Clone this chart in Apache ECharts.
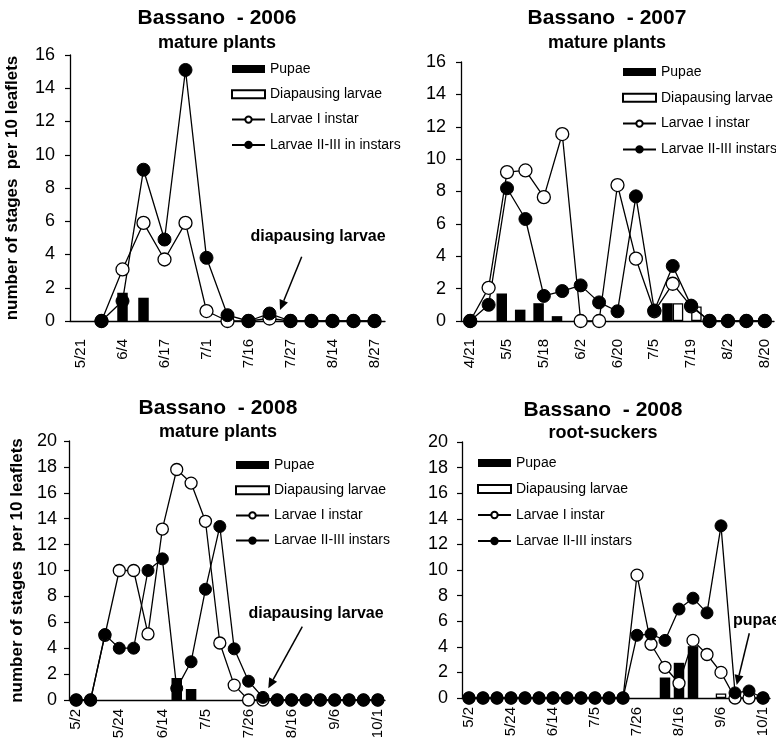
<!DOCTYPE html>
<html>
<head>
<meta charset="utf-8">
<script src="https://cdn.jsdelivr.net/npm/echarts@6/dist/echarts.min.js"></script>
<style>
  html, body { margin: 0; padding: 0; background: #fff; }
  #chart { width: 776px; height: 749px; }
</style>
</head>
<body>
<div id="chart"></div>
<script>
// Bassano 2006 - mature plants
const dates2006 = ['5/21', '', '6/4', '', '6/17', '', '7/1', '', '7/16', '', '7/27', '', '8/14', '', '8/27'];
const pupae2006 = [null, null, 1.7, 1.4, null, null, null, null, null, null, null, null, null, null, null];
const diap2006 = [null, null, null, null, null, null, null, null, null, null, null, null, null, null, null];
const larvaeI2006 = [null, 0, 3.1, 5.9, 3.7, 5.9, 0.6, 0, 0, 0.15, 0, 0, 0, 0, 0];
const larvaeII2006 = [null, 0, 1.2, 9.1, 4.9, 15.1, 3.8, 0.35, 0, 0.45, 0, 0, 0, 0, 0];

// Bassano 2007 - mature plants
const dates2007 = ['4/21', '', '5/5', '', '5/18', '', '6/2', '', '6/20', '', '7/5', '', '7/19', '', '8/2', '', '8/20'];
const pupae2007 = [null, null, 1.7, 0.7, 1.1, 0.3, null, null, null, null, null, 1.1, null, null, null, null, null];
const diap2007 = [null, null, null, null, null, null, null, null, null, null, null, 1.1, 0.9, null, null, null, null];
const larvaeI2007 = [0, 2.05, 9.2, 9.3, 7.65, 11.55, 0, 0, 8.4, 3.85, 0.6, 2.3, 0.9, 0, 0, 0, 0];
const larvaeII2007 = [0, 1.0, 8.2, 6.3, 1.55, 1.85, 2.2, 1.15, 0.6, 7.7, 0.65, 3.4, 0.95, 0, 0, 0, 0];

// Bassano 2008 - mature plants
const dates2008 = ['5/2', '', '', '5/24', '', '', '6/14', '', '', '7/5', '', '', '7/26', '', '', '8/16', '', '', '9/6', '', '', '10/1'];
const pupae2008 = [null, null, null, null, null, null, null, 1.7, 0.85, null, null, null, null, null, null, null, null, null, null, null, null, null];
const diap2008 = [null, null, null, null, null, null, null, null, null, null, null, null, null, null, null, null, null, null, null, null, null, null];
const larvaeI2008 = [0, 0, 5.0, 10.0, 10.0, 5.1, 13.2, 17.8, 16.75, 13.8, 4.4, 1.15, 0, 0, 0, 0, 0, 0, 0, 0, 0, 0];
const larvaeII2008 = [0, 0, 5.05, 4.0, 4.0, 10.0, 10.9, 0.9, 2.95, 8.55, 13.4, 3.95, 1.45, 0.2, 0, 0, 0, 0, 0, 0, 0, 0];

// Bassano 2008 - root-suckers
const datesRoot = dates2008;
const pupaeRoot = [null, null, null, null, null, null, null, null, null, null, null, null, null, null, 1.6, 2.75, 4.05, null, null, null, null, null];
const diapRoot = [null, null, null, null, null, null, null, null, null, null, null, null, null, null, null, null, null, null, 0.35, null, null, null];
const larvaeIRoot = [0, 0, 0, 0, 0, 0, 0, 0, 0, 0, 0, 0, 9.6, 4.2, 2.4, 1.15, 4.5, 3.4, 2.0, 0, 0, 0];
const larvaeIIRoot = [0, 0, 0, 0, 0, 0, 0, 0, 0, 0, 0, 0, 4.9, 5.0, 4.5, 6.95, 7.8, 6.65, 13.45, 0.4, 0.55, 0];

const yLabel = 'number of stages  per 10 leaflets';
const FONT = '"Liberation Sans", Arial, sans-serif';

const panels = [
  {
    box: { left: 70, top: 55, width: 315, height: 266 },
    cats: dates2006, every: 1, yMax: 16, xMargin: 18, yMargin: 15,
    pupae: pupae2006, diap: diap2006, l1: larvaeI2006, l23: larvaeII2006,
    l23Name: 'Larvae II-III in instars', barGap: '-100%', sym: 13,
    yName: true, nameGap: 49, legend: { left: 231, top: 62, gap: 11.3 }
  },
  {
    box: { left: 461, top: 62, width: 313, height: 259 },
    cats: dates2007, every: 1, yMax: 16, xMargin: 18, yMargin: 15,
    pupae: pupae2007, diap: diap2007, l1: larvaeI2007, l23: larvaeII2007,
    l23Name: 'Larvae II-III instars', barGap: '0%', sym: 13,
    yName: false, legend: { left: 622, top: 65, gap: 11.8 }
  },
  {
    box: { left: 69, top: 441, width: 316, height: 259 },
    cats: dates2008, every: 2, yMax: 20, xMargin: 9, yMargin: 12,
    pupae: pupae2008, diap: diap2008, l1: larvaeI2008, l23: larvaeII2008,
    l23Name: 'Larvae II-III instars', barGap: '-100%', sym: 12,
    yName: true, nameGap: 43, legend: { left: 235, top: 458, gap: 11.2 }
  },
  {
    box: { left: 462, top: 442, width: 308, height: 256 },
    cats: datesRoot, every: 2, yMax: 20, xMargin: 9, yMargin: 14,
    pupae: pupaeRoot, diap: diapRoot, l1: larvaeIRoot, l23: larvaeIIRoot,
    l23Name: 'Larvae II-III instars', barGap: '-100%', sym: 12,
    yName: false, legend: { left: 477, top: 456, gap: 12 }
  }
];

const grid = [], xAxis = [], yAxis = [], series = [], legend = [];

panels.forEach((p, i) => {
  grid.push(Object.assign({ containLabel: false, outerBoundsMode: 'none' }, p.box));
  xAxis.push({
    type: 'category', gridIndex: i, data: p.cats, boundaryGap: true,
    axisLine: { lineStyle: { color: '#000', width: 1.3 } },
    axisTick: { interval: 0, length: 5, lineStyle: { color: '#000', width: 1.2 } },
    axisLabel: { interval: p.every, rotate: 90, fontSize: 15, fontFamily: FONT, color: '#000', margin: p.xMargin }
  });
  yAxis.push({
    type: 'value', gridIndex: i, min: 0, max: p.yMax, interval: 2,
    name: p.yName ? yLabel : '', nameLocation: 'middle', nameGap: p.nameGap,
    nameTextStyle: { fontSize: 17, fontWeight: 'bold', fontFamily: FONT, color: '#000' },
    axisLine: { show: true, lineStyle: { color: '#000', width: 1.3 } },
    axisTick: { show: true, length: 5, lineStyle: { color: '#000', width: 1.2 } },
    splitLine: { show: false },
    axisLabel: { fontSize: 18, fontFamily: FONT, color: '#000', margin: p.yMargin }
  });
  const base = { xAxisIndex: i, yAxisIndex: i, silent: true, animation: false };
  series.push(Object.assign({
    name: 'Pupae', type: 'bar', data: p.pupae, barWidth: 10.5, barGap: p.barGap,
    itemStyle: { color: '#000' }
  }, base));
  series.push(Object.assign({
    name: 'Diapausing larvae', type: 'bar', data: p.diap, barWidth: 10.5, barGap: p.barGap,
    itemStyle: { color: '#fff', borderColor: '#000', borderWidth: 1.3 }
  }, base));
  series.push(Object.assign({
    name: 'Larvae I instar', type: 'line', data: p.l1, symbol: 'circle', symbolSize: p.sym,
    showAllSymbol: true, clip: false,
    itemStyle: { color: '#fff', borderColor: '#000', borderWidth: 1.3 },
    lineStyle: { color: '#000', width: 1.3 }
  }, base));
  series.push(Object.assign({
    name: p.l23Name, type: 'line', data: p.l23, symbol: 'circle', symbolSize: p.sym,
    showAllSymbol: true, clip: false,
    itemStyle: { color: '#000', borderColor: '#000', borderWidth: 1 },
    lineStyle: { color: '#000', width: 1.3 }
  }, base));
  legend.push({
    orient: 'vertical', left: p.legend.left, top: p.legend.top, padding: 0,
    itemWidth: 33, itemHeight: 8, itemGap: p.legend.gap, selectedMode: false,
    data: [
      { name: 'Pupae', icon: 'rect' },
      { name: 'Diapausing larvae', icon: 'rect' },
      'Larvae I instar',
      p.l23Name
    ],
    textStyle: { fontSize: 14, lineHeight: 14, fontFamily: FONT, color: '#000' }
  });
});

function txt(x, y, text, size, align) {
  return {
    type: 'text', x: x, y: y, silent: true,
    style: {
      text: text, font: 'bold ' + size + 'px ' + FONT, fill: '#000',
      align: align || 'center', verticalAlign: 'middle',
      textAlign: align || 'center', textVerticalAlign: 'middle'
    }
  };
}

function arrow(x1, y1, x2, y2) {
  const dx = x2 - x1, dy = y2 - y1, L = Math.hypot(dx, dy);
  const ux = dx / L, uy = dy / L, hl = 10, hw = 4.5;
  const bx = x2 - ux * hl, by = y2 - uy * hl;
  return [
    { type: 'line', silent: true, shape: { x1: x1, y1: y1, x2: bx, y2: by }, style: { stroke: '#000', lineWidth: 1.5 } },
    { type: 'polygon', silent: true, shape: { points: [[x2, y2], [bx - uy * hw, by + ux * hw], [bx + uy * hw, by - ux * hw]] }, style: { fill: '#000' } }
  ];
}

const graphic = [
  txt(217, 18, 'Bassano  - 2006', 21), txt(217, 43, 'mature plants', 18),
  txt(607, 18, 'Bassano  - 2007', 21), txt(607, 43, 'mature plants', 18),
  txt(218, 408, 'Bassano  - 2008', 21), txt(218, 432, 'mature plants', 18),
  txt(603, 410, 'Bassano  - 2008', 21), txt(603, 433, 'root-suckers', 18),
  txt(318, 237, 'diapausing larvae', 16),
  txt(316, 614, 'diapausing larvae', 16),
  txt(733, 621, 'pupae', 16, 'left')
].concat(arrow(301.7, 256.7, 280, 310))
 .concat(arrow(302.3, 626.7, 268.3, 688.3))
 .concat(arrow(749.3, 633.3, 736.7, 685));

const chart = echarts.init(document.getElementById('chart'), null, { renderer: 'canvas' });
chart.setOption({
  animation: false,
  backgroundColor: '#fff',
  textStyle: { fontFamily: FONT },
  grid: grid,
  xAxis: xAxis,
  yAxis: yAxis,
  legend: legend,
  series: series,
  graphic: graphic
});
</script>
</body>
</html>
